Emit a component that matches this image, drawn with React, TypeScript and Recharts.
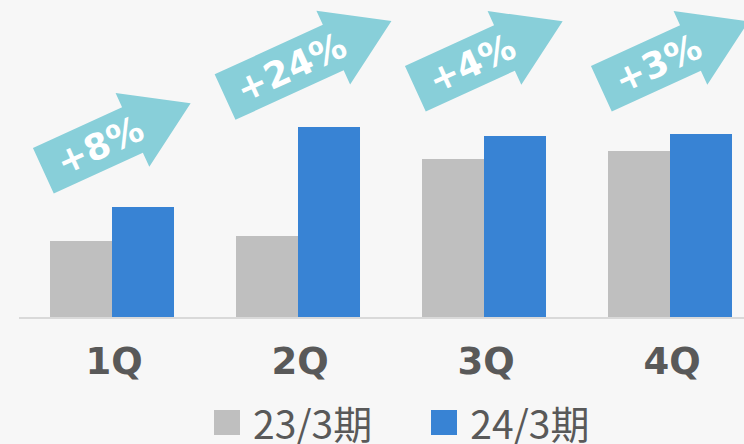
import React from "react";
import { ComposedChart, Bar, Line, XAxis, YAxis, Legend } from "recharts";

const quarters = ["1Q", "2Q", "3Q", "4Q"];
const prevYear = [77, 82, 159, 167];
const currYear = [111, 191, 182, 184];
const growthLabels = ["+8%", "+24%", "+4%", "+3%"];
const arrowLevel = [181, 259, 263, 263];
const seriesNames = ["23/3期", "24/3期"];

const GRAY = "#bfbfbf";
const BLUE = "#3883d4";
const ARROW = "#88cfd9";
const TEXT = "#595959";

const data = quarters.map((q, i) => ({
  q,
  prev: prevYear[i],
  curr: currYear[i],
  arrowAt: arrowLevel[i],
  growth: growthLabels[i],
}));

const ANGLE = -24.6;

const ArrowMark = (props: any) => {
  const { cx, cy, payload, index } = props;
  if (cx == null || cy == null) return null;
  const label: string = payload.growth;
  const len = 99 + 21 * label.length;
  const headLen = 64;
  const bodyW = 50;
  const headW = 81;
  const half = len / 2;
  const bodyEnd = half - headLen;
  const pts = [
    [-half, -bodyW / 2],
    [bodyEnd, -bodyW / 2],
    [bodyEnd, -headW / 2],
    [half, 0],
    [bodyEnd, headW / 2],
    [bodyEnd, bodyW / 2],
    [-half, bodyW / 2],
  ]
    .map((p) => p.join(","))
    .join(" ");
  const shiftX = 5 + (len - 162) / 4;
  return (
    <g key={`arrow-${index}`} transform={`translate(${cx + shiftX},${cy}) rotate(${ANGLE})`}>
      <polygon points={pts} fill={ARROW} />
      <text
        x={-19}
        y={13}
        textAnchor="middle"
        fill="#ffffff"
        fontFamily="'DejaVu Sans', Verdana, sans-serif"
        fontWeight="bold"
        fontSize={36}
      >
        {label}
      </text>
    </g>
  );
};

const QuarterTick = (props: any) => {
  const { x, y, payload } = props;
  return (
    <text
      x={x + 2}
      y={y}
      dy={56}
      textAnchor="middle"
      fill={TEXT}
      fontFamily="'DejaVu Sans', Verdana, sans-serif"
      fontWeight="bold"
      fontSize={37}
    >
      {payload.value}
    </text>
  );
};

const LegendContent = (props: any) => {
  const { payload } = props;
  const items = (payload || []).filter((p: any) => p.type !== "none");
  return (
    <div style={{ display: "flex", alignItems: "center", height: 34 }}>
      {items.map((it: any, i: number) => (
        <div
          key={i}
          style={{ display: "flex", alignItems: "center", marginRight: i === 0 ? 59 : 0 }}
        >
          <div style={{ width: 26, height: 25, background: it.color, marginRight: 13 }} />
          <span
            style={{
              fontFamily: "'Noto Sans CJK JP', sans-serif",
              fontSize: 39,
              lineHeight: "34px",
              color: TEXT,
              whiteSpace: "nowrap",
            }}
          >
            {it.value}
          </span>
        </div>
      ))}
    </div>
  );
};

export default function App() {
  return (
    <div
      style={{
        position: "fixed",
        left: 0,
        top: 0,
        width: 744,
        height: 444,
        overflow: "hidden",
        background: "#f7f7f7",
      }}
    >
      <ComposedChart
        width={763}
        height={444}
        data={data}
        margin={{ top: 0, right: 0, bottom: 0, left: 19 }}
        barCategoryGap="16.67%"
        barGap={0}
      >
        <XAxis
          dataKey="q"
          height={92}
          tickLine={false}
          tickSize={0}
          tickMargin={0}
          axisLine={{ stroke: "#d9d9d9", strokeWidth: 2 }}
          tick={<QuarterTick />}
          interval={0}
        />
        <YAxis hide domain={[0, 318]} allowDataOverflow />
        <Bar dataKey="prev" name={seriesNames[0]} fill={GRAY} isAnimationActive={false} />
        <Bar dataKey="curr" name={seriesNames[1]} fill={BLUE} isAnimationActive={false} />
        <Line
          dataKey="arrowAt"
          stroke="none"
          legendType="none"
          dot={(p: any) => <ArrowMark {...p} />}
          activeDot={false}
          isAnimationActive={false}
        />
        <Legend
          content={<LegendContent />}
          wrapperStyle={{ position: "absolute", left: 214, top: 405, width: 420, height: 34 }}
        />
      </ComposedChart>
    </div>
  );
}
